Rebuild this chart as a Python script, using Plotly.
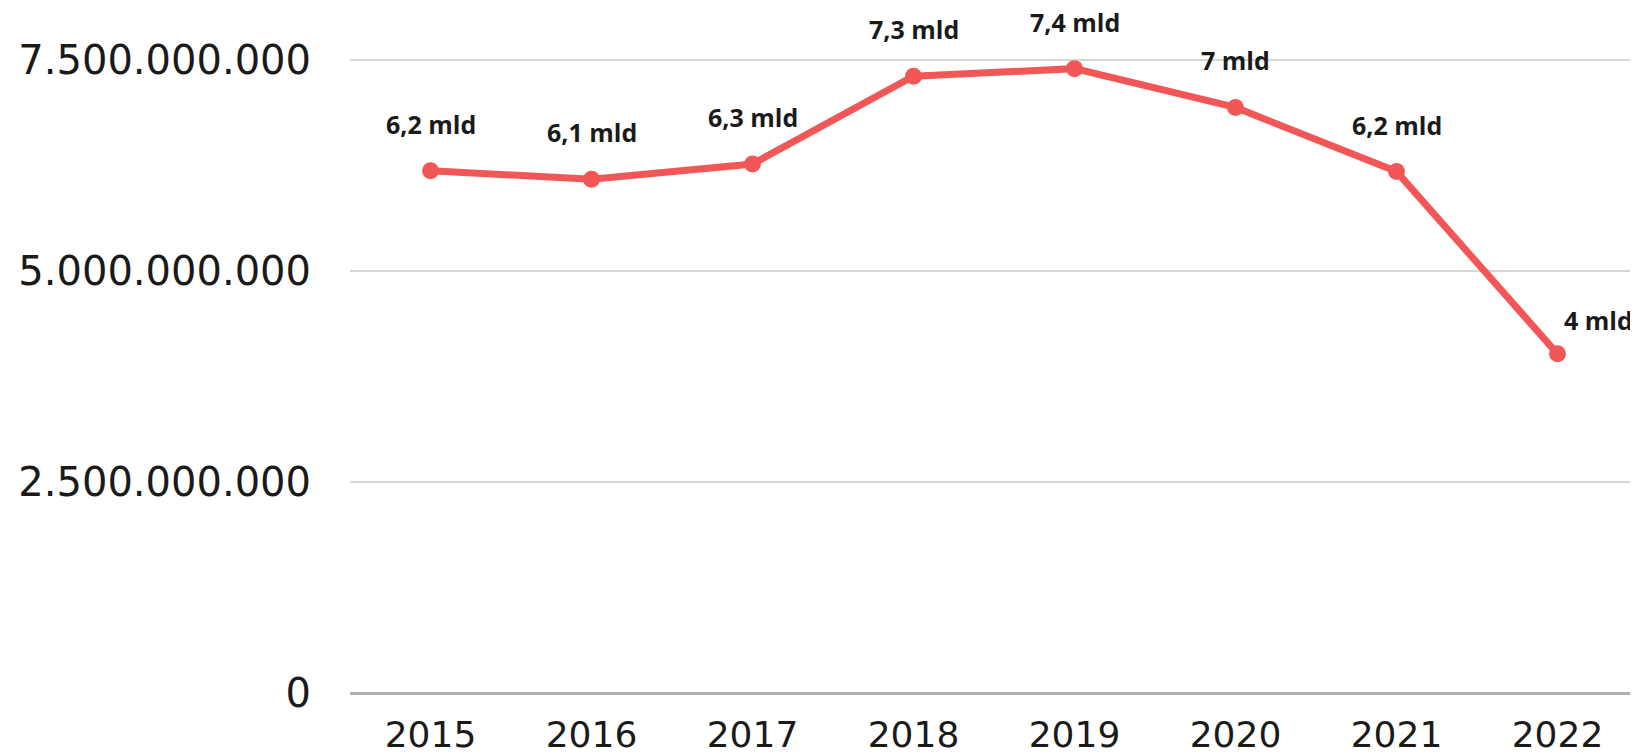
import plotly.graph_objects as go

years = [2015, 2016, 2017, 2018, 2019, 2020, 2021, 2022]
values = [6.19e9, 6.09e9, 6.27e9, 7.31e9, 7.40e9, 6.94e9, 6.18e9, 4.02e9]
labels = ["6,2 mld", "6,1 mld", "6,3 mld", "7,3 mld", "7,4 mld", "7 mld", "6,2 mld", "4 mld"]
y_ticks = [0, 2.5e9, 5e9, 7.5e9]

LINE_COLOR = "#f25757"

fig = go.Figure()
fig.add_trace(go.Scatter(
    x=years, y=values, mode="lines+markers",
    line=dict(color=LINE_COLOR, width=7),
    marker=dict(color=LINE_COLOR, size=17),
    hoverinfo="skip", showlegend=False,
))

for i, (yr, v, lab) in enumerate(zip(years, values, labels)):
    last = i == len(years) - 1
    fig.add_annotation(
        x=yr, y=v, text=f"<b>{lab}</b>", showarrow=False,
        yshift=34 if last else 47, xshift=41 if last else 0,
        font=dict(family="Open Sans", size=25, color="#1a1a1a"),
    )

# the page body has an 8px margin, so the figure is sized to fit the window
fig.update_layout(
    width=1630, height=748,
    margin=dict(l=342, r=0, t=10, b=63),
    paper_bgcolor="white", plot_bgcolor="white",
    separators=",.",
    font=dict(family="DejaVu Sans", color="#1a1a1a"),
    xaxis=dict(
        range=[years[0] - 0.5, years[-1] + 0.5],
        tickvals=years, tickformat="d",
        showgrid=False, showline=False, zeroline=False,
        ticks="outside", ticklen=10, tickcolor="rgba(0,0,0,0)",
        tickfont=dict(family="DejaVu Sans", size=36, color="#1a1a1a"),
    ),
    yaxis=dict(
        range=[0, 8e9], tickvals=y_ticks, tickformat=",.0f",
        showgrid=True, gridcolor="#d6d6d6", gridwidth=2,
        zeroline=True, zerolinecolor="#b0b0b0", zerolinewidth=3,
        showline=False,
        ticks="outside", ticklen=30, tickcolor="rgba(0,0,0,0)",
        tickfont=dict(family="DejaVu Sans", size=40, color="#1a1a1a"),
    ),
)

fig.write_html("out.html")
